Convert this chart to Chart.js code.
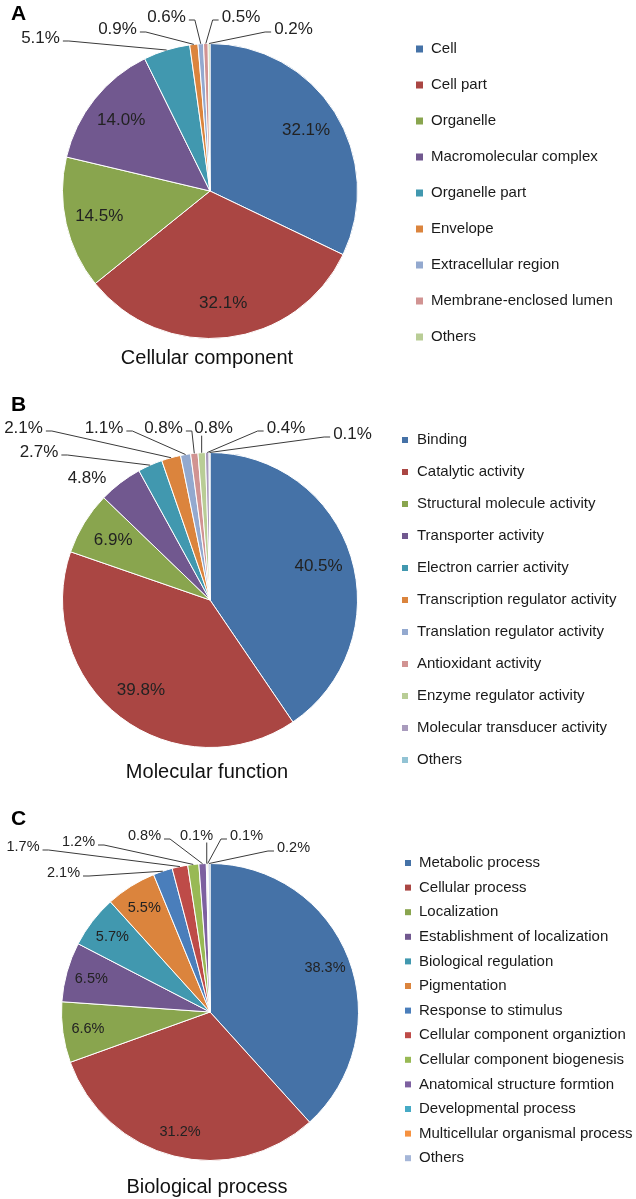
<!DOCTYPE html>
<html>
<head>
<meta charset="utf-8">
<script src="https://cdn.jsdelivr.net/npm/chart.js@4"></script>
<style>
body { margin: 0; background: #fff; }
#wrap { position: relative; width: 636px; height: 1199px; }
canvas { position: absolute; left: 0; }
</style>
</head>
<body>
<div id="wrap">
  <canvas id="chartA" width="636" height="395" style="top:0px"></canvas>
  <canvas id="chartB" width="636" height="400" style="top:395px"></canvas>
  <canvas id="chartC" width="636" height="404" style="top:795px"></canvas>
</div>
<script>
// A - cellular component
var ccLabels = ['Cell', 'Cell part', 'Organelle', 'Macromolecular complex', 'Organelle part', 'Envelope', 'Extracellular region', 'Membrane-enclosed lumen', 'Others'];
var ccValues = [32.1, 32.1, 14.5, 14.0, 5.1, 0.9, 0.6, 0.5, 0.2];

// B - molecular function
var mfLabels = ['Binding', 'Catalytic activity', 'Structural molecule activity', 'Transporter activity', 'Electron carrier activity', 'Transcription regulator activity', 'Translation regulator activity', 'Antioxidant activity', 'Enzyme regulator activity', 'Molecular transducer activity', 'Others'];
var mfValues = [40.5, 39.8, 6.9, 4.8, 2.7, 2.1, 1.1, 0.8, 0.8, 0.4, 0.1];

// C - biological process
var bpLabels = ['Metabolic process', 'Cellular process', 'Localization', 'Establishment of localization', 'Biological regulation', 'Pigmentation', 'Response to stimulus', 'Cellular component organiztion', 'Cellular component biogenesis', 'Anatomical structure formtion', 'Developmental process', 'Multicellular organismal process', 'Others'];
var bpValues = [38.3, 31.2, 6.6, 6.5, 5.7, 5.5, 2.1, 1.7, 1.2, 0.8, 0.1, 0.1, 0.2];

var colorsAB = ['#4572a7', '#aa4643', '#89a54e', '#71588f', '#4198af', '#db843d', '#93a9cf', '#d19392', '#b9cd96', '#a99bbd', '#92c3d4'];
var colorsC = ['#4572a7', '#aa4643', '#89a54e', '#71588f', '#4198af', '#db843d', '#4a7ebb', '#be4b48', '#98b954', '#7d60a0', '#46aac5', '#f69240', '#a5b6d8'];

var FONT = '"Liberation Sans", Arial, sans-serif';

// labels, leader lines, title and legend
var pieExtras = {
    id: 'pieExtras',
    afterDraw: function(chart, args, o) {
        var ctx = chart.ctx;
        var meta = chart.getDatasetMeta(0);
        var ds = chart.data.datasets[0];
        ctx.save();
        ctx.textBaseline = 'middle';

        meta.data.forEach(function(arc, i) {
            var p = arc.getProps(['x', 'y', 'startAngle', 'endAngle', 'outerRadius'], true);
            var mid = (p.startAngle + p.endAngle) / 2;
            var txt = ds.data[i].toFixed(1) + '%';
            ctx.font = o.labelSize + 'px ' + FONT;
            ctx.fillStyle = '#222';
            ctx.textAlign = 'center';
            if (i < o.inside) {
                var r = p.outerRadius * o.insideR;
                ctx.fillText(txt, p.x + Math.cos(mid) * r, p.y + Math.sin(mid) * r);
                return;
            }
            var pos = o.outside[i - o.inside];
            var lx = pos[0], ly = pos[1] - o.top;
            ctx.fillText(txt, lx, ly);
            if (pos[2] === 'n') return;
            var w = ctx.measureText(txt).width;
            var ex = p.x + Math.cos(mid) * p.outerRadius;
            var ey = p.y + Math.sin(mid) * p.outerRadius;
            var sx, sy = ly + 3, kx;
            if (pos[2] === 'r') {
                sx = lx + w / 2 + 3;
                kx = Math.min(sx + 6, ex);
            } else if (pos[2] === 'l') {
                sx = lx - w / 2 - 3;
                kx = Math.max(sx - 6, ex);
            } else {
                sx = Math.max(lx - w / 2 + 2, Math.min(ex, lx + w / 2 - 2));
                sy = ly + o.labelSize * 0.45;
                kx = sx;
            }
            ctx.strokeStyle = '#3a3a3a';
            ctx.lineWidth = 1;
            ctx.beginPath();
            ctx.moveTo(sx, sy);
            ctx.lineTo(kx, sy);
            ctx.lineTo(ex, ey);
            ctx.stroke();
        });

        // panel letter
        ctx.fillStyle = '#000';
        ctx.textAlign = 'left';
        ctx.font = 'bold 21px ' + FONT;
        ctx.fillText(o.letter, 11, o.letterY - o.top);

        // title
        ctx.fillStyle = '#111';
        ctx.textAlign = 'center';
        ctx.font = '20px ' + FONT;
        ctx.fillText(o.title, 207, o.titleY - o.top);

        // legend
        var lg = o.legend;
        ctx.textAlign = 'left';
        ctx.font = '15px ' + FONT;
        chart.data.labels.forEach(function(lab, i) {
            var y = lg.y0 + i * lg.dy - o.top;
            ctx.fillStyle = ds.backgroundColor[i];
            ctx.fillRect(lg.boxX, y - lg.box / 2, lg.box, lg.box);
            ctx.fillStyle = '#1a1a1a';
            ctx.fillText(lab, lg.textX, y);
        });
        ctx.restore();
    }
};

function makePie(id, labels, values, colors, padding, extras) {
    return new Chart(document.getElementById(id), {
        type: 'pie',
        data: {
            labels: labels,
            datasets: [{
                data: values,
                backgroundColor: colors,
                borderColor: '#ffffff',
                borderWidth: 1
            }]
        },
        options: {
            responsive: false,
            animation: false,
            layout: { padding: padding },
            plugins: {
                legend: { display: false },
                tooltip: { enabled: false },
                pieExtras: extras
            }
        },
        plugins: [pieExtras]
    });
}

makePie('chartA', ccLabels, ccValues, colorsAB,
    { left: 62, right: 278, top: 43, bottom: 56 },
    {
        top: 0, letter: 'A', letterY: 14, title: 'Cellular component', titleY: 358,
        labelSize: 17, inside: 4, insideR: 0.77,
        outside: [[40.5, 38, 'r'], [117.5, 29, 'r'], [166.5, 17, 'r'], [241, 17, 'l'], [293.5, 29, 'l']],
        legend: { boxX: 416, textX: 431, y0: 49, dy: 36, box: 7 }
    });

makePie('chartB', mfLabels, mfValues, colorsAB,
    { left: 62, right: 278, top: 57, bottom: 47 },
    {
        top: 395, letter: 'B', letterY: 405, title: 'Molecular function', titleY: 772,
        labelSize: 17, inside: 3, insideR: 0.77,
        outside: [[87, 478, 'n'], [39, 452, 'r'], [23.5, 428, 'r'], [104, 428, 'r'], [163.5, 428, 'r'], [213.5, 428, 'b'], [286, 428, 'l'], [352.5, 434, 'l']],
        legend: { boxX: 402, textX: 417, y0: 440, dy: 32, box: 6 }
    });

makePie('chartC', bpLabels, bpValues, colorsC,
    { left: 61, right: 277, top: 68, bottom: 38 },
    {
        top: 795, letter: 'C', letterY: 819, title: 'Biological process', titleY: 1187,
        labelSize: 14.5, inside: 6, insideR: 0.83,
        outside: [[63.5, 873, 'r'], [23, 847, 'r'], [78.5, 842, 'r'], [144.5, 836, 'r'], [196.5, 836, 'b'], [246.5, 836, 'l'], [293.5, 848, 'l']],
        legend: { boxX: 405, textX: 419, y0: 863, dy: 24.6, box: 6 }
    });
</script>
</body>
</html>
